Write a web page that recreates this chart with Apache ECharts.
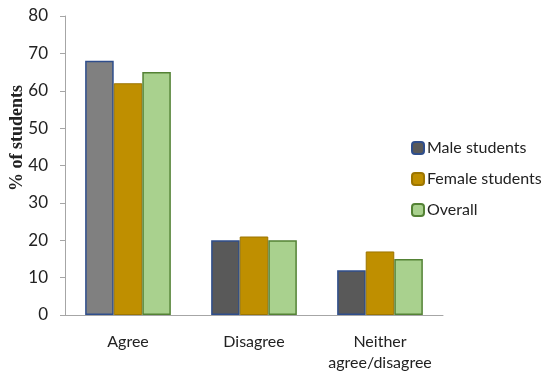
<!DOCTYPE html>
<html><head><meta charset="utf-8">
<script src="https://cdn.jsdelivr.net/npm/echarts@6/dist/echarts.min.js"></script>
<style>html,body{margin:0;padding:0;background:#fff}#c{width:550px;height:377px}</style>
</head><body><div id="c"></div>
<script>
const categories = ['Agree', 'Disagree', 'Neither\nagree/disagree'];
const maleValues = [68, 20, 12];
const femaleValues = [62, 21, 17];
const overallValues = [65, 20, 15];
const yTicks = [0, 10, 20, 30, 40, 50, 60, 70, 80];

const chart = echarts.init(document.getElementById('c'));
const font = 'Lato';
chart.setOption({
  animation: false,
  grid: { left: 65, right: 107, top: 16, bottom: 62 },
  legend: {
    orient: 'vertical', left: 406, top: 135, itemWidth: 12, itemHeight: 12, itemGap: 15,
    textStyle: { fontFamily: font, fontSize: 16, color: '#222', padding: [0, 0, 0, -2] },
    data: ['Male students', 'Female students', 'Overall']
  },
  graphic: [{
    type: 'text', x: 17, y: 138, rotation: Math.PI / 2,
    style: { text: '% of students', font: 'bold 18px "Liberation Serif"', fill: '#222',
      textAlign: 'center', textVerticalAlign: 'middle' }
  }],
  xAxis: {
    type: 'category', data: categories,
    axisLine: { lineStyle: { color: '#a6a6a6' } },
    axisTick: { show: false },
    axisLabel: { interval: 0, fontFamily: font, fontSize: 16, color: '#222', margin: 16, lineHeight: 21 }
  },
  yAxis: {
    type: 'value', min: 0, max: 80, interval: 10,
    axisLine: { show: true, lineStyle: { color: '#a6a6a6' } },
    axisTick: { show: true, length: 5, lineStyle: { color: '#a6a6a6' } },
    splitLine: { show: false },
    axisLabel: { fontFamily: font, fontSize: 17, color: '#222', margin: 17,
      formatter: v => yTicks.includes(v) ? String(v) : '' }
  },
  series: [
    { name: 'Male students', type: 'bar', barGap: '0%', barCategoryGap: '32%',
      itemStyle: { color: '#595959', borderColor: '#2f4e8c', borderWidth: 1.5 },
      data: maleValues.map((v, i) => i === 0 ? { value: v, itemStyle: { color: '#808080' } } : v) },
    { name: 'Female students', type: 'bar', barGap: '0%', barCategoryGap: '32%',
      itemStyle: { color: '#bf8f00', borderColor: '#9c7500', borderWidth: 1 },
      data: femaleValues },
    { name: 'Overall', type: 'bar', barGap: '0%', barCategoryGap: '32%',
      itemStyle: { color: '#a9d18e', borderColor: '#548235', borderWidth: 1.5 },
      data: overallValues }
  ]
});
</script></body></html>
